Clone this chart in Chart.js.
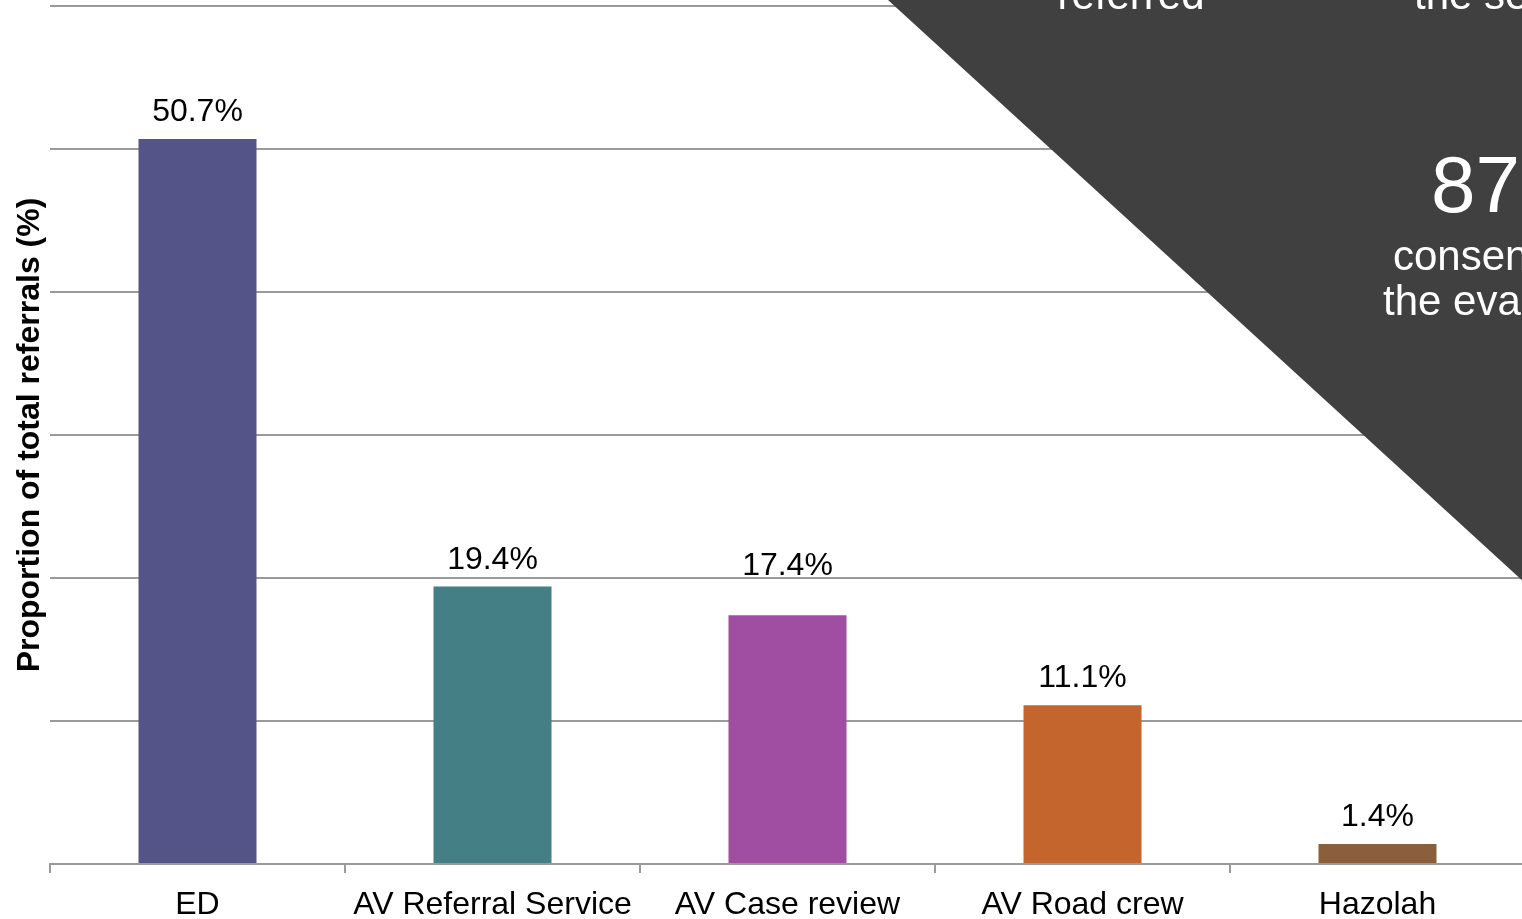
<!DOCTYPE html>
<html>
<head>
<meta charset="utf-8">
<title>Referrals by source</title>
<script src="https://cdn.jsdelivr.net/npm/chart.js@4.4.1/dist/chart.umd.min.js"></script>
<style>
  html, body { margin: 0; padding: 0; background: #ffffff; overflow: hidden; }
  #wrap { position: absolute; left: 0; top: 0; width: 1525px; height: 940px; }
</style>
</head>
<body>
<div id="wrap"><canvas id="chart" width="1525" height="940"></canvas></div>
<script>
// Referral sources and their share of all referrals (%)
const categories = ['ED', 'AV Referral Service', 'AV Case review', 'AV Road crew', 'Hazolah'];
const shares = [50.7, 19.4, 17.4, 11.1, 1.4];
const barColors = ['#545488', '#437f84', '#a04ea1', '#c5652e', '#8b5e3c'];
const yTicks = { min: 0, max: 60, step: 10 };
const yTitle = 'Proportion of total referrals (%)';

// Callout panel text (white on dark)
const calloutTop = ['referred', 'the service'];
const calloutStat = '87%';
const calloutLines = ['consented to', 'the evaluation'];

const FONT = '"Liberation Sans", Arial, Helvetica, sans-serif';
const GRID = '#9a9a9a';

// Extra lift for individual value labels (px)
const labelLift = [0, 0, 22, 0, 0];

const valueLabels = {
  id: 'valueLabels',
  afterDatasetsDraw(chart) {
    const ctx = chart.ctx;
    const meta = chart.getDatasetMeta(0);
    ctx.save();
    ctx.font = '32px ' + FONT;
    ctx.fillStyle = '#000000';
    ctx.textAlign = 'center';
    ctx.textBaseline = 'alphabetic';
    meta.data.forEach((bar, i) => {
      const v = chart.data.datasets[0].data[i];
      ctx.fillText(v.toFixed(1) + '%', bar.x, bar.y - 18 - labelLift[i]);
    });
    ctx.restore();
  }
};

const callout = {
  id: 'callout',
  afterDraw(chart) {
    const ctx = chart.ctx;
    const w = chart.width;
    const x0 = 888, slope = 583 / (1525 - 888);
    ctx.save();
    ctx.fillStyle = '#404040';
    ctx.beginPath();
    ctx.moveTo(x0, 0);
    ctx.lineTo(w, 0);
    ctx.lineTo(w, (w - x0) * slope);
    ctx.closePath();
    ctx.fill();

    ctx.fillStyle = '#ffffff';
    ctx.textBaseline = 'alphabetic';
    ctx.font = '42px ' + FONT;
    ctx.textAlign = 'center';
    ctx.fillText(calloutTop[0], 1131, 9);
    ctx.textAlign = 'left';
    ctx.fillText(calloutTop[1], 1414, 9);

    ctx.font = '80px ' + FONT;
    ctx.fillText(calloutStat, 1431, 212);

    ctx.font = '42px ' + FONT;
    ctx.fillText(calloutLines[0], 1393, 270);
    ctx.fillText(calloutLines[1], 1383, 315);
    ctx.restore();
  }
};

new Chart(document.getElementById('chart'), {
  type: 'bar',
  data: {
    labels: categories,
    datasets: [{
      data: shares,
      backgroundColor: barColors,
      borderWidth: 0,
      barPercentage: 0.4,
      categoryPercentage: 1.0
    }]
  },
  options: {
    responsive: false,
    animation: false,
    devicePixelRatio: 1,
    layout: { padding: { top: 6, right: 0, bottom: 0, left: 0 } },
    plugins: {
      legend: { display: false },
      tooltip: { enabled: false }
    },
    scales: {
      x: {
        offset: true,
        afterFit(scale) { scale.height = 76; },
        grid: {
          offset: true,
          drawOnChartArea: false,
          drawTicks: true,
          tickLength: 9,
          color: GRID,
          lineWidth: 2
        },
        border: { display: true, color: GRID, width: 2 },
        ticks: {
          color: '#000000',
          padding: 13,
          maxRotation: 0,
          autoSkip: false,
          font: { family: FONT, size: 32 }
        }
      },
      y: {
        min: yTicks.min,
        max: yTicks.max,
        afterFit(scale) { scale.width = 50; },
        ticks: { display: false, stepSize: yTicks.step },
        grid: { color: GRID, lineWidth: 2, drawTicks: false },
        border: { display: false },
        title: {
          display: true,
          text: yTitle,
          color: '#000000',
          padding: { top: 11, bottom: 0 },
          font: { family: FONT, size: 32, weight: 'bold' }
        }
      }
    }
  },
  plugins: [valueLabels, callout]
});
</script>
</body>
</html>
